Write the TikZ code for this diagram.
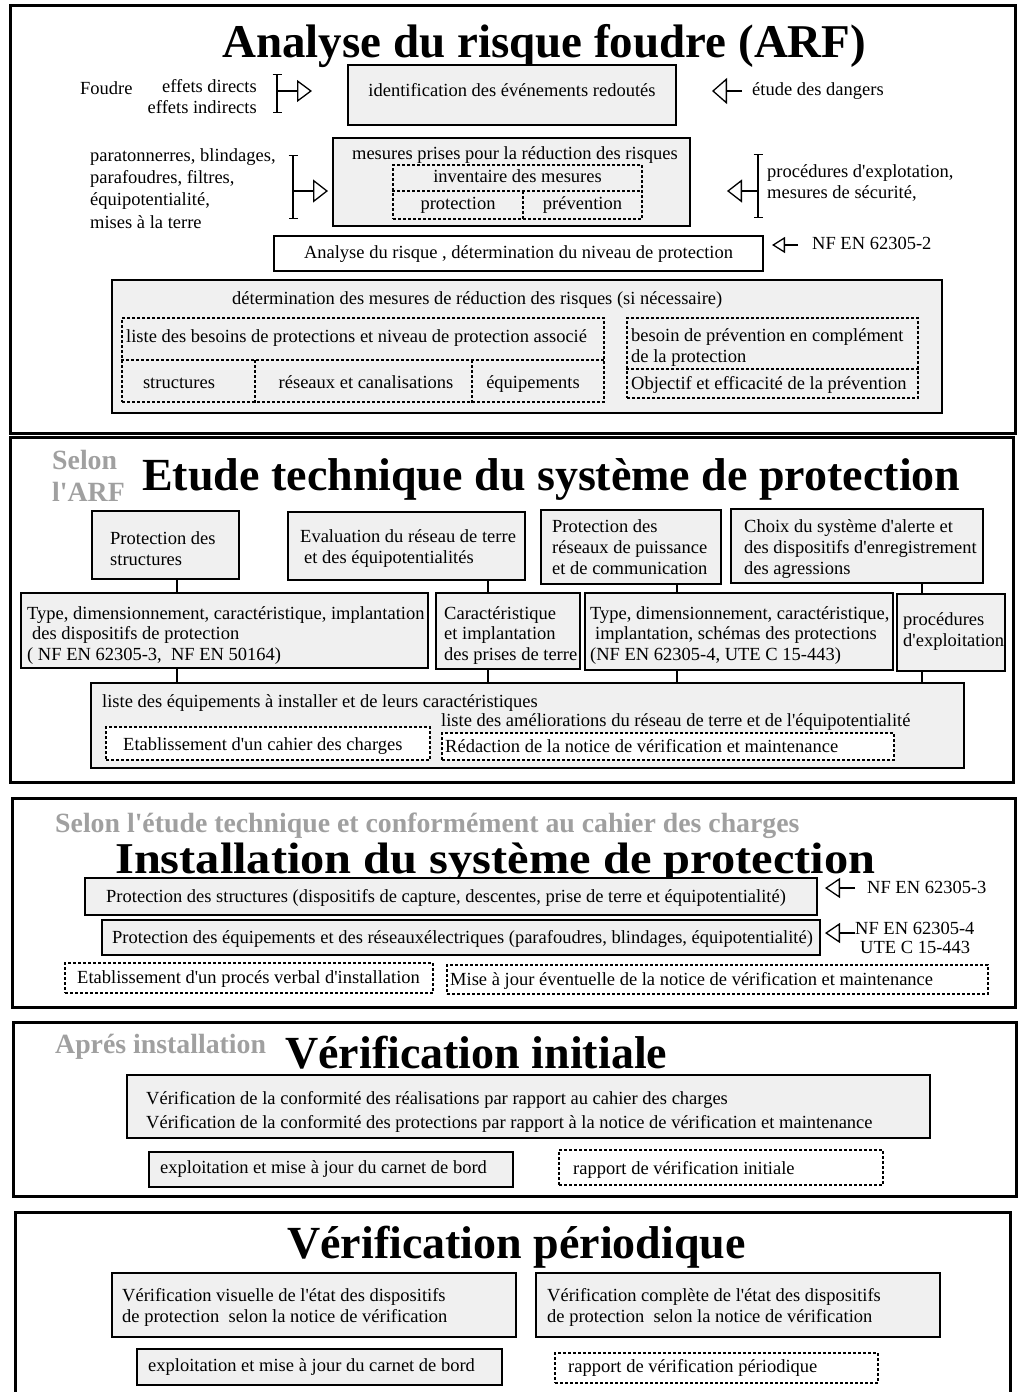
\documentclass[tikz,border=0pt]{standalone}
\usepackage{fontspec}
\setmainfont{Liberation Serif}[Ligatures=TeXOff]
\newfontfamily\widefont{Liberation Serif}[FakeStretch=1.1, Ligatures=TeXOff]
\usetikzlibrary{arrows.meta}
\definecolor{boxgray}{HTML}{F0F0F0}
\definecolor{greytxt}{HTML}{A0A0A0}
\newcommand\fs{\fontsize{18.5}{21}\selectfont}
\newcommand\RB[7]{\node[#1, minimum width={(#4)-(#2)}, minimum height={(#5)-(#3)}] (#6) at ({((#2)+(#4))/2},{((#3)+(#5))/2}) {#7};}
\tikzset{
  sec/.style={draw, line width=3pt, inner sep=0},
  gbox/.style={draw, line width=1.4pt, fill=boxgray, inner sep=0},
  wbox/.style={draw, line width=1.4pt, fill=white, inner sep=0},
  dbox/.style={draw, line width=1.1pt, dash pattern=on 3pt off 2pt, inner sep=0},
  dboxw/.style={dbox, fill=white},
  dl/.style={line width=1.1pt, dash pattern=on 3pt off 2pt},
  conn/.style={line width=1.1pt},
  ibar/.style={line width=1.4pt, {Bar[width=9pt]}-{Bar[width=9pt]}},
  oarr/.style={line width=1.3pt, -{Triangle[open, length=15pt, width=#1]}},
  oarr/.default=22pt,
  t/.style={inner sep=0, font=\fs, text height=13pt, text depth=4pt, anchor=west},
  tc/.style={inner sep=0, font=\fs, text height=13pt, text depth=4pt},
  ml/.style={inner sep=0, font=\fs, align=left, anchor=west},
  ttl/.style={inner sep=0, anchor=base west, font=\fontsize{#1}{#1}\selectfont\bfseries},
  ttl/.default=46,
  gt/.style={inner sep=0, text=greytxt, font=\fontsize{27.8}{32}\selectfont\bfseries},
}
\begin{document}
\begin{tikzpicture}[x=1pt,y=-1pt]
\useasboundingbox (0,0) rectangle (1019,1392);
\clip (0,0) rectangle (1019,1392);
\fill[white] (0,0) rectangle (1019,1392);

% ---------------- Section 1 ----------------
\RB{sec}{10}{5}{1015}{433}{S1}{}
\node[ttl=47] (T1) at (222,57) {Analyse du risque foudre (ARF)};

\node[t] (foudre) at (80,90) {Foudre};
\node[ml, align=right, anchor=east] (effets) at (257,96.5) {effets directs\\effets indirects};
\coordinate (b1t) at (277,74); \coordinate (b1b) at (277,113);
\coordinate (b1m) at (277,91); \coordinate (tip1) at (312,91);
\draw[ibar] (b1t) -- (b1b);
\draw[oarr=22pt] (b1m) -- (tip1);

\RB{gbox}{348}{65}{676}{125}{ident}{}
\node[tc] (identT) at (512,92) {identification des événements redoutés};
\node[t] (etude) at (752,91) {étude des dangers};
\coordinate (tip2) at (712,91);
\draw[oarr=26pt] ([xshift=-10pt]etude.west) -- (tip2);

\RB{gbox}{333}{138}{690}{226}{mes}{}
\node[tc] (mesT) at (515,155) {mesures prises pour la réduction des risques};
\RB{dbox}{393}{165}{642}{219}{inv}{}
\coordinate (h1) at (0,191); \coordinate (v1) at (523,191);
\draw[dl] (inv.west |- h1) -- (inv.east |- h1);
\draw[dl] (v1) -- (v1 |- inv.south);
\node[tc] (invT) at (517.5,178) {inventaire des mesures};
\node[tc] (protT) at (458,205) {protection};
\node[tc] (prevT) at (582.5,205) {prévention};

\node[ml, font=\fontsize{18.5}{22.3}\selectfont] (leftL) at (90,188.5) {paratonnerres, blindages,\\parafoudres, filtres,\\équipotentialité,\\mises à la terre};
\coordinate (b2t) at (293,155); \coordinate (b2b) at (293,219);
\coordinate (b2m) at (293,191); \coordinate (tip3) at (328,191);
\draw[ibar] (b2t) -- (b2b);
\draw[oarr=23pt] (b2m) -- (tip3);

\node[ml] (proc) at (767,182.5) {procédures d'explotation,\\mesures de sécurité,};
\coordinate (b3t) at (758,154); \coordinate (b3b) at (758,218);
\coordinate (b3m) at (758,191); \coordinate (tip4) at (727,191);
\draw[ibar] (b3t) -- (b3b);
\draw[oarr=23pt] (b3m) -- (tip4);

\RB{wbox}{274}{236}{763}{271}{anal}{}
\node[tc] (analT) at (518.5,254) {Analyse du risque , détermination du niveau de protection};
\node[t] (nf2) at (812,245) {NF EN 62305-2};
\coordinate (tip5) at (772,245);
\draw[line width=1.3pt, -{Triangle[open, length=13pt, width=16pt]}] ([xshift=-14pt]nf2.west) -- (tip5);

\RB{gbox}{112}{280}{942}{413}{det}{}
\node[t] (detT) at (232,300) {détermination des mesures de réduction des risques (si nécessaire)};
\RB{dbox}{122}{318}{604}{402}{besL}{}
\coordinate (h2) at (0,360);
\coordinate (v2) at (255,360); \coordinate (v3) at (472,360);
\draw[dl] (besL.west |- h2) -- (besL.east |- h2);
\draw[dl] (v2) -- (v2 |- besL.south);
\draw[dl] (v3) -- (v3 |- besL.south);
\node[t] (besLT) at (126,338) {liste des besoins de protections et niveau de protection associé};
\node[tc] (strT) at (179,384) {structures};
\node[tc] (resT) at (366,384) {réseaux et canalisations};
\node[tc] (equT) at (533,384) {équipements};

\RB{dbox}{627}{318}{918}{398}{besR}{}
\coordinate (h3) at (0,369);
\draw[dl] (besR.west |- h3) -- (besR.east |- h3);
\node[ml] (besRT) at (631,347.5) {besoin de prévention en complément\\de la protection};
\node[t] (objT) at (631,385) {Objectif et efficacité de la prévention};

% ---------------- Section 2 ----------------
\RB{sec}{10}{437}{1013}{782}{S2}{}
\node[gt, align=left, anchor=west] (selon) at (52,476) {Selon\\l'ARF};
\node[ttl=46] (T2) at (142,490) {Etude technique du système de protection};

\RB{gbox}{92}{511}{239}{579}{A}{}
\RB{gbox}{288}{512}{525}{580}{B}{}
\RB{gbox}{541}{510}{721}{584}{C}{}
\RB{gbox}{731}{509}{983}{583}{D}{}
\node[ml] (AT) at (110,548.5) {Protection des\\structures};
\node[ml] (BT) at (300,548.5) {Evaluation du réseau de terre\\\hspace*{4pt}et des équipotentialités};
\node[ml] (CT) at (552,547) {Protection des\\réseaux de puissance\\et de communication};
\node[ml] (DT) at (744,549) {Choix du système d'alerte et\\des dispositifs d'enregistrement\\des agressions};

\RB{gbox}{21}{593}{428}{668}{E}{}
\RB{gbox}{436}{593}{580}{669}{F}{}
\RB{gbox}{585}{593}{893}{670}{G}{}
\RB{gbox}{897}{594}{1005}{671}{H}{}
\node[ml, font=\fontsize{18.5}{20.5}\selectfont] (ET) at (27,635.5) {Type, dimensionnement, caractéristique, implantation\\\hspace*{5pt}des dispositifs de protection\\( NF EN 62305-3,\ \ NF EN 50164)};
\node[ml, font=\fontsize{18.5}{20.5}\selectfont] (FT) at (444,635.5) {Caractéristique\\et implantation\\des prises de terre};
\node[ml, font=\fontsize{18.5}{20.5}\selectfont] (GT) at (590,635.5) {Type, dimensionnement, caractéristique,\\\hspace*{5pt}implantation, schémas des protections\\(NF EN 62305-4, UTE C 15-443)};
\node[ml] (HT) at (903,631.5) {procédures\\d'exploitation};

\RB{gbox}{91}{683}{964}{768}{I}{}
\node[t] (IT1) at (102,703) {liste des équipements à installer et de leurs caractéristiques};
\RB{dboxw}{106}{727}{430}{760}{J}{}
\RB{dboxw}{442}{733}{894}{760}{K}{}
\node[t] (IT2) at (441,722) {liste des améliorations du réseau de terre et de l'équipotentialité};
\node[t] (JT) at (123,746) {Etablissement d'un cahier des charges};
\node[t] (KT) at (445,747.5) {Rédaction de la notice de vérification et maintenance};

\coordinate (cx1) at (177,0); \coordinate (cx2) at (488,0);
\coordinate (cx3) at (677,0); \coordinate (cx4) at (922,0);
\draw[conn] (A.south -| cx1) -- (E.north -| cx1);
\draw[conn] (B.south -| cx2) -- (F.north -| cx2);
\draw[conn] (C.south -| cx3) -- (G.north -| cx3);
\draw[conn] (D.south -| cx4) -- (H.north -| cx4);
\draw[conn] (E.south -| cx1) -- (I.north -| cx1);
\draw[conn] (F.south -| cx2) -- (I.north -| cx2);
\draw[conn] (G.south -| cx3) -- (I.north -| cx3);
\draw[conn] (H.south -| cx4) -- (I.north -| cx4);

% ---------------- Section 3 ----------------
\RB{sec}{12}{798}{1015}{1007}{S3}{}
\node[gt, anchor=base west] (selon3) at (55,832) {Selon l'étude technique et conformément au cahier des charges};
\node[inner sep=0, anchor=base west, font=\widefont\fontsize{44}{44}\selectfont\bfseries] (T3) at (115,873) {Installation du système de protection};
\RB{gbox}{85}{878}{817}{915}{P1}{}
\RB{gbox}{102}{920}{820}{955}{P2}{}
\node[t] (P1T) at (106,898) {Protection des structures (dispositifs de capture, descentes, prise de terre et équipotentialité)};
\node[t] (P2T) at (112,938.5) {Protection des équipements et des réseauxélectriques (parafoudres, blindages, équipotentialité)};
\node[t] (nf3) at (867,889) {NF EN 62305-3};
\coordinate (tip6) at (825,888);
\draw[oarr=20pt] ([xshift=-12pt]nf3.west |- tip6) -- (tip6);
\node[ml, font=\fontsize{18.5}{19}\selectfont] (nf4) at (855,937.5) {NF EN 62305-4\\\hspace*{5pt}UTE C 15-443};
\coordinate (tip7) at (825,933);
\draw[oarr=20pt] (nf4.west |- tip7) -- (tip7);
\RB{dbox}{65}{963}{433}{993}{Q1}{}
\RB{dbox}{447}{965}{988}{994}{Q2}{}
\node[t] (Q1T) at (77,979) {Etablissement d'un procés verbal d'installation};
\node[t] (Q2T) at (450,980.5) {Mise à jour éventuelle de la notice de vérification et maintenance};

% ---------------- Section 4 ----------------
\RB{sec}{13}{1022}{1016}{1196}{S4}{}
\node[gt, anchor=base west] (apres) at (55,1053) {Aprés installation};
\node[ttl=46] (T4) at (285,1068) {Vérification initiale};
\RB{gbox}{127}{1075}{930}{1138}{V1}{}
\node[ml, font=\fontsize{18.5}{24}\selectfont] (V1T) at (146,1112) {Vérification de la conformité des réalisations par rapport au cahier des charges\\Vérification de la conformité des protections par rapport à la notice de vérification et maintenance};
\RB{gbox}{149}{1152}{513}{1187}{V2}{}
\node[t] (V2T) at (160,1169) {exploitation et mise à jour du carnet de bord};
\RB{dbox}{559}{1150}{883}{1185}{V3}{}
\node[t] (V3T) at (573,1170) {rapport de vérification initiale};

% ---------------- Section 5 ----------------
\RB{sec}{15}{1212}{1010}{1402}{S5}{}
\node[ttl=46] (T5) at (287,1258) {Vérification périodique};
\RB{gbox}{112}{1273}{516}{1337}{W1}{}
\RB{gbox}{536}{1273}{940}{1337}{W2}{}
\node[ml] (W1T) at (122,1307.5) {Vérification visuelle de l'état des dispositifs\\de protection\ \ selon la notice de vérification};
\node[ml] (W2T) at (547,1307.5) {Vérification complète de l'état des dispositifs\\de protection\ \ selon la notice de vérification};
\RB{gbox}{137}{1349}{502}{1385}{W3}{}
\node[t] (W3T) at (148,1367) {exploitation et mise à jour du carnet de bord};
\RB{dbox}{555}{1353}{878}{1383}{W4}{}
\node[t] (W4T) at (568,1368) {rapport de vérification périodique};
\end{tikzpicture}
\end{document}
